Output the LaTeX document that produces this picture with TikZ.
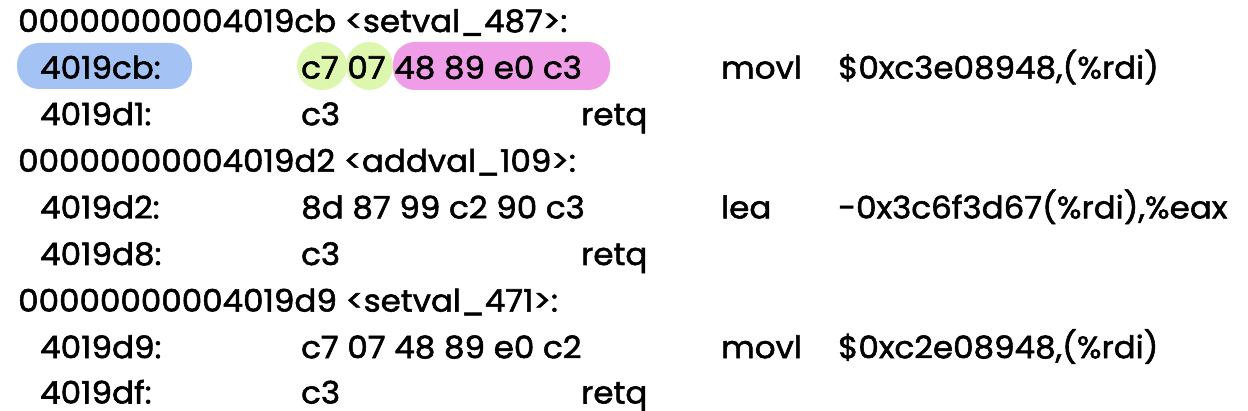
\documentclass[tikz,border=0pt]{standalone}
\usepackage{fontspec}
\setmainfont{Poppins}[FakeStretch=1.05,FakeBold=1.8]
\definecolor{pillblue}{HTML}{A4C2F4}
\definecolor{pillgreen}{HTML}{DDF7AE}
\definecolor{pillpink}{HTML}{EE9DE6}
\begin{document}
\begin{tikzpicture}[x=1pt,y=-1pt,
  txt/.style={anchor=base west,inner sep=0pt,font=\fontsize{31}{31}\selectfont},
  pill/.style={rounded corners=22pt}]
\useasboundingbox[fill=white] (0,0) rectangle (1248,411);
% highlights
\fill[pillblue,pill] (17,43) rectangle (192,89);
\fill[pillgreen] (322,66) ellipse (25pt and 24pt);
\fill[pillgreen] (369.5,66) ellipse (23.5pt and 24pt);
\fill[pillpink,pill] (393,42) rectangle (610,90);
% row 1
\node[txt] (h1) at (18,32) {00000000004019cb <setval\_487>:};
% row 2
\node[txt] (a1) at (40,78.6) {4019cb:};
\node[txt] (b1) at (301,78.6) {c7 07 48 89 e0 c3};
\node[txt] (m1) at (721,78.6) {movl};
\node[txt] (o1) at (838,78.6) {\$0xc3e08948,(\%rdi)};
% row 3
\node[txt] (a2) at (40,125.2) {4019d1:};
\node[txt] (b2) at (301,125.2) {c3};
\node[txt] (m2) at (581,125.2) {retq};
% row 4
\node[txt] (h2) at (18,171.8) {00000000004019d2 <addval\_109>:};
% row 5
\node[txt] (a3) at (40,218.4) {4019d2:};
\node[txt] (b3) at (301,218.4) {8d 87 99 c2 90 c3};
\node[txt] (m3) at (721,218.4) {lea};
\node[txt] (o3) at (838,218.4) {-0x3c6f3d67(\%rdi),\%eax};
% row 6
\node[txt] (a4) at (40,265) {4019d8:};
\node[txt] (b4) at (301,265) {c3};
\node[txt] (m4) at (581,265) {retq};
% row 7
\node[txt] (h3) at (18,311.6) {00000000004019d9 <setval\_471>:};
% row 8
\node[txt] (a5) at (40,358.2) {4019d9:};
\node[txt] (b5) at (301,358.2) {c7 07 48 89 e0 c2};
\node[txt] (m5) at (721,358.2) {movl};
\node[txt] (o5) at (838,358.2) {\$0xc2e08948,(\%rdi)};
% row 9
\node[txt] (a6) at (40,403.5) {4019df:};
\node[txt] (b6) at (301,403.5) {c3};
\node[txt] (m6) at (581,403.5) {retq};
\end{tikzpicture}
\end{document}
